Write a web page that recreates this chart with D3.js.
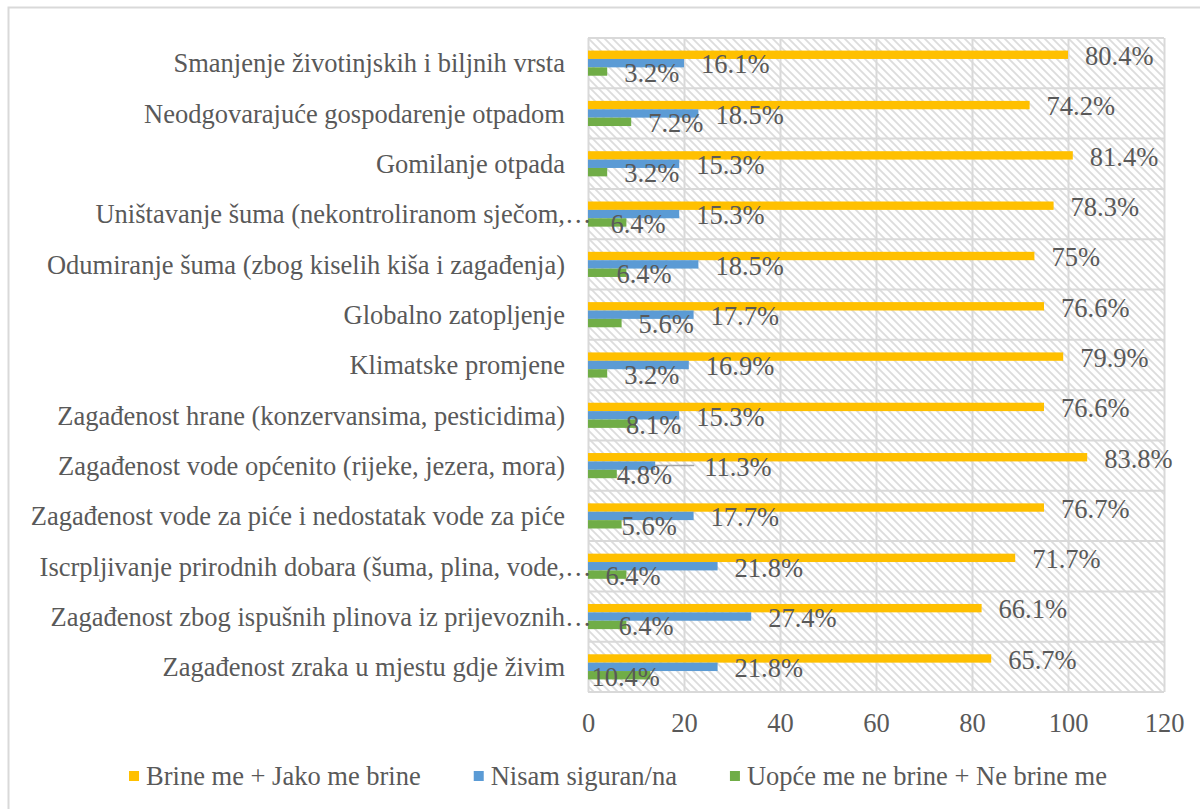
<!DOCTYPE html>
<html>
<head>
<meta charset="utf-8">
<script src="https://cdn.jsdelivr.net/npm/d3@7"></script>
<style>
  body { margin: 0; background: #fff; }
  text { font-family: "Liberation Serif", "Times New Roman", serif; fill: #595959; }
</style>
</head>
<body>
<svg id="chart" width="1200" height="809"></svg>
<script>
// --- data (bar lengths in axis units, labels as printed)
const categories = [
  "Smanjenje životinjskih i biljnih vrsta",
  "Neodgovarajuće gospodarenje otpadom",
  "Gomilanje otpada",
  "Uništavanje šuma (nekontroliranom sječom,…",
  "Odumiranje šuma (zbog kiselih kiša i zagađenja)",
  "Globalno zatopljenje",
  "Klimatske promjene",
  "Zagađenost hrane (konzervansima, pesticidima)",
  "Zagađenost vode općenito (rijeke, jezera, mora)",
  "Zagađenost vode za piće i nedostatak vode za piće",
  "Iscrpljivanje prirodnih dobara (šuma, plina, vode,…",
  "Zagađenost zbog ispušnih plinova iz prijevoznih…",
  "Zagađenost zraka u mjestu gdje živim",
];
const seriesNames = [
  "Brine me + Jako me brine",
  "Nisam siguran/na",
  "Uopće me ne brine + Ne brine me",
];
const concernedValues = [100, 92, 101, 97, 93, 95, 99, 95, 104, 95, 89, 82, 84];
const unsureValues = [20, 23, 19, 19, 23, 22, 21, 19, 14, 22, 27, 34, 27];
const notConcernedValues = [4, 9, 4, 8, 8, 7, 4, 10, 6, 7, 8, 8, 13];
const concernedLabels = ["80.4%", "74.2%", "81.4%", "78.3%", "75%", "76.6%", "79.9%", "76.6%", "83.8%", "76.7%", "71.7%", "66.1%", "65.7%"];
const unsureLabels = ["16.1%", "18.5%", "15.3%", "15.3%", "18.5%", "17.7%", "16.9%", "15.3%", "11.3%", "17.7%", "21.8%", "27.4%", "21.8%"];
const notConcernedLabels = ["3.2%", "7.2%", "3.2%", "6.4%", "6.4%", "5.6%", "3.2%", "8.1%", "4.8%", "5.6%", "6.4%", "6.4%", "10.4%"];
const xTicks = [0, 20, 40, 60, 80, 100, 120];

// --- layout
const margin = { top: 38, right: 36, bottom: 117, left: 588 };
const colors = ["#FFC000", "#5B9BD5", "#70AD47"];
const gridColor = "#d9d9d9";
const fontSize = 26.5;
const labelGap = 17;
// labels that were dragged by hand in the original chart (series, row, px)
const movedLabels = [
  { s: 1, i: 8, dx: 32, leader: true },
  { s: 2, i: 3, dx: -33 },
  { s: 2, i: 4, dx: -27 },
  { s: 2, i: 7, dx: -27 },
  { s: 2, i: 8, dx: -17 },
  { s: 2, i: 9, dx: -17 },
  { s: 2, i: 10, dx: -38 },
  { s: 2, i: 11, dx: -25 },
  { s: 2, i: 12, dx: -76 },
];

const svg = d3.select("#chart");
const width = +svg.attr("width") - margin.left - margin.right;
const height = +svg.attr("height") - margin.top - margin.bottom;

const series = [concernedValues, unsureValues, notConcernedValues];
const seriesLabels = [concernedLabels, unsureLabels, notConcernedLabels];

const rows = [];
series.forEach((values, s) => {
  values.forEach((v, i) => {
    const moved = movedLabels.find((m) => m.s === s && m.i === i);
    rows.push({
      s,
      i,
      category: categories[i],
      value: v,
      label: seriesLabels[s][i],
      dx: moved ? moved.dx : 0,
      leader: moved ? !!moved.leader : false,
    });
  });
});

const xScale = d3.scaleLinear().domain([0, 120]).range([0, width]);
const yScale = d3.scaleBand().domain(categories).range([0, height]);
const bw = yScale.bandwidth();
const ySub = d3.scaleBand().domain([0, 1, 2]).range([bw / 4, (bw * 3) / 4]);

// chart area border (runs off the right and bottom of the picture)
svg
  .append("rect")
  .attr("x", 8.5)
  .attr("y", 7.5)
  .attr("width", 1300)
  .attr("height", 900)
  .attr("fill", "#fff")
  .attr("stroke", gridColor)
  .attr("stroke-width", 2);

const defs = svg.append("defs");
const hatch = defs
  .append("pattern")
  .attr("id", "hatch")
  .attr("patternUnits", "userSpaceOnUse")
  .attr("width", 8)
  .attr("height", 8);
hatch.append("rect").attr("width", 8).attr("height", 8).attr("fill", "#fff");
hatch
  .append("path")
  .attr("d", "M-2,-2L10,10M-6,2L2,10M2,-6L10,2")
  .attr("stroke", "#dcdcdc")
  .attr("stroke-width", 1.8);

const svgGroup = svg
  .append("g")
  .attr("transform", `translate(${margin.left},${margin.top})`);

function drawPlotArea(el) {
  el.append("rect")
    .attr("width", width)
    .attr("height", height)
    .attr("fill", "url(#hatch)");

  const grid = el
    .append("g")
    .attr("class", "grid")
    .attr("transform", `translate(0,${height})`)
    .call(d3.axisBottom(xScale).tickValues(xTicks).tickSize(-height).tickFormat(""));
  grid.select(".domain").remove();
  grid.selectAll("line").attr("stroke", gridColor).attr("stroke-width", 2);

  el.append("g")
    .selectAll("line")
    .data(categories.concat([null]))
    .join("line")
    .attr("x1", 0)
    .attr("x2", width)
    .attr("y1", (d) => (d === null ? height : yScale(d)))
    .attr("y2", (d) => (d === null ? height : yScale(d)))
    .attr("stroke", gridColor)
    .attr("stroke-width", 2);
}

function drawXAxis(el) {
  const axis = el
    .append("g")
    .attr("class", "axis axis--x")
    .attr("transform", `translate(0,${height})`)
    .call(d3.axisBottom(xScale).tickValues(xTicks).tickSize(0));
  axis.select(".domain").remove();
  axis
    .selectAll("text")
    .attr("y", 31)
    .attr("dy", "0.35em")
    .style("font-size", `${fontSize}px`)
    .style("font-family", null)
    .attr("fill", null);
  axis.attr("font-family", null).attr("font-size", null);
}

function drawCategoryLabels(el) {
  const g = el.append("g").attr("class", "axis axis--y");
  categories.forEach((c) => {
    const cut = c.endsWith("…");
    const y = yScale(c) + bw / 2;
    g.append("text")
      .attr("x", -23)
      .attr("y", y)
      .attr("dy", "0.35em")
      .attr("text-anchor", "end")
      .style("font-size", `${fontSize}px`)
      .text(cut ? c.slice(0, -1) : c);
    if (cut) {
      g.append("text")
        .attr("x", -23)
        .attr("y", y)
        .attr("dy", "0.35em")
        .style("font-size", `${fontSize}px`)
        .text("…");
    }
  });
}

function drawBars(el) {
  el.append("g")
    .attr("class", "bars-g")
    .selectAll(".bar")
    .data(rows)
    .join("rect")
    .attr("class", "bar")
    .attr("x", 0)
    .attr("y", (d) => yScale(d.category) + ySub(d.s))
    .attr("width", (d) => xScale(d.value))
    .attr("height", ySub.bandwidth())
    .attr("fill", (d) => colors[d.s]);
}

function drawValueLabels(el) {
  const yMid = (d) => yScale(d.category) + ySub(d.s) + ySub.bandwidth() / 2;

  el.append("g")
    .selectAll("line")
    .data(rows.filter((d) => d.leader))
    .join("line")
    .attr("x1", (d) => xScale(d.value))
    .attr("x2", (d) => xScale(d.value) + labelGap + d.dx - 10)
    .attr("y1", yMid)
    .attr("y2", yMid)
    .attr("stroke", "#a6a6a6")
    .attr("stroke-width", 1.5);

  el.append("g")
    .selectAll("text")
    .data(rows)
    .join("text")
    .attr("x", (d) => xScale(d.value) + labelGap + d.dx)
    .attr("y", (d) => yMid(d) + 1)
    .attr("dy", "0.35em")
    .style("font-size", `${fontSize}px`)
    .text((d) => d.label);
}

function drawLegend() {
  const legend = svg.append("g").attr("class", "legend");
  const items = legend
    .selectAll("g")
    .data(seriesNames)
    .join("g");
  items
    .append("rect")
    .attr("width", 10)
    .attr("height", 10)
    .attr("y", -5)
    .attr("fill", (d, i) => colors[i]);
  items
    .append("text")
    .attr("x", 17)
    .attr("dy", "0.35em")
    .style("font-size", `${fontSize}px`)
    .text((d) => d);

  let x = 0;
  items.each(function () {
    const w = 17 + this.querySelector("text").getComputedTextLength();
    d3.select(this).attr("transform", `translate(${x},0)`);
    x += w + 53;
  });
  const total = x - 53;
  legend.attr("transform", `translate(${618 - total / 2},776)`);
}

drawPlotArea(svgGroup);
drawBars(svgGroup);
drawValueLabels(svgGroup);
drawCategoryLabels(svgGroup);
drawXAxis(svgGroup);
drawLegend();
</script>
</body>
</html>
